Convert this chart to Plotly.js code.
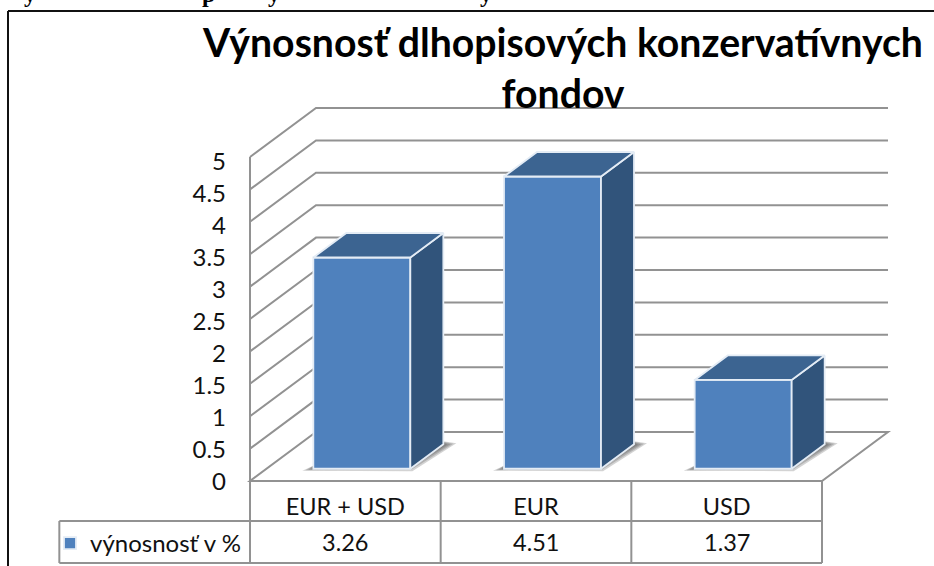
<!DOCTYPE html>
<html>
<head>
<meta charset="utf-8">
<script src="https://cdn.plot.ly/plotly-3.0.1.min.js"></script>
<style>html,body{margin:0;padding:0;background:#fff}#c{width:934px;height:566px}</style>
</head>
<body>
<div id="c"></div>
<script>
// ----- data -----
const categories = ['EUR + USD', 'EUR', 'USD'];
const seriesName = 'výnosnosť v %';
const values = [3.26, 4.51, 1.37];
const yTicks = [0, 0.5, 1, 1.5, 2, 2.5, 3, 3.5, 4, 4.5, 5];
const titleText = 'Výnosnosť dlhopisových konzervatívnych<br>fondov';
const clippedLetters = [['y', 30], ['p', 208], ['y', 274], ['y', 486]];

// ----- page geometry -----
const W = 934, H = 566;
const originX = 250, originY = 481;
const pxX = 572 / 3;        // pixels per category
const pxY = 324 / 5;        // pixels per value unit
const depthX = 66 / pxX;    // oblique depth in axis units
const depthY = 49 / pxY;
const barWidth = 97 / pxX;
const nearD = 0.25, farD = 0.75;
const rowY1 = -40 / pxY, rowY2 = -82 / pxY;
const labelPxY = 64, labelOriginY = 482;   // tick labels run on a slightly tighter scale than the walls

const GRID = '#929292', FRONT = '#4f81bd', TOP = '#3c6491', SIDE = '#31547b', EDGE = '#e4ecf5';
const FONT = 'Lato, "Open Sans", sans-serif';

function proj(x, d, v) { return [x + d * depthX, v + d * depthY]; }
function pathOf(pts, close) {
  return 'M' + pts.map(p => p[0] + ',' + p[1]).join('L') + (close ? 'Z' : '');
}
function gridShape(d) {
  return { type: 'path', xref: 'x', yref: 'y', layer: 'below', path: d, line: { color: GRID, width: 2 } };
}

const shapes = [];
// frame of the embedded picture
shapes.push({ type: 'line', xref: 'paper', yref: 'paper', x0: 8 / W, x1: 8 / W, y0: 0, y1: 1 - 11 / H, line: { color: '#111', width: 2 }, layer: 'below' });
shapes.push({ type: 'line', xref: 'paper', yref: 'paper', x0: 8 / W, x1: 1, y0: 1 - 11 / H, y1: 1 - 11 / H, line: { color: '#111', width: 2 }, layer: 'below' });

// walls and floor
yTicks.forEach(t => {
  if (t === 0) return;
  shapes.push(gridShape(pathOf([[0, t], proj(0, 1, t), proj(3, 1, t)])));
});
shapes.push(gridShape(pathOf([[0, 0], [3, 0], proj(3, 1, 0), proj(0, 1, 0)], true)));
shapes.push(gridShape(pathOf([[0, 0], [0, 5]])));

// data table
[0, 1, 2, 3].forEach(i => shapes.push(gridShape(pathOf([[i, 0], [i, rowY2]]))));
shapes.push(gridShape(pathOf([[-1, rowY1], [3, rowY1]])));
shapes.push(gridShape(pathOf([[-1, rowY2], [3, rowY2]])));
shapes.push(gridShape(pathOf([[-1, rowY1], [-1, rowY2]])));

// soft floor shadows
const traces = [];
const centers = categories.map((c, i) => i + 0.5);
centers.forEach((c) => {
  const x0 = c - barWidth / 2, x1 = c + barWidth / 2;
  [0, 3, 6, 9].forEach(s => {
    const ax = s / pxX, ay = s / pxY * 0.6;
    const pts = [
      [proj(x0, nearD, 0)[0] - (11 - s) / pxX, proj(x0, nearD, 0)[1] - 2 / pxY + ay * 0.3],
      [proj(x0, nearD, 0)[0], proj(x0, nearD, 0)[1] + 3 / pxY],
      [proj(x1, farD, 0)[0], proj(x1, farD, 0)[1] + 3 / pxY - ay * 0.3],
      [proj(x1, farD, 0)[0] + (13 - s) / pxX, proj(x1, farD, 0)[1] + 1 / pxY - ay * 0.3],
      [proj(x1, nearD, 0)[0] + 2 / pxX - ax * 0.2, proj(x0, nearD, 0)[1] - 2.5 / pxY + ay]
    ];
    shapes.push({ type: 'path', xref: 'x', yref: 'y', layer: 'below', path: pathOf(pts, true), fillcolor: 'rgba(70,70,70,0.24)', line: { width: 0 } });
  });
});

// bar fronts: a real bar trace
traces.push({
  type: 'bar', name: seriesName,
  x: centers.map(c => proj(c, nearD, 0)[0]),
  y: values,
  base: values.map(() => nearD * depthY),
  width: barWidth,
  marker: { color: FRONT, line: { color: EDGE, width: 1.8 } },
  hoverinfo: 'skip', showlegend: true
});
// bar sides and tops
values.forEach((v, i) => {
  const x0 = centers[i] - barWidth / 2, x1 = centers[i] + barWidth / 2;
  const side = [proj(x1, nearD, 0), proj(x1, farD, 0), proj(x1, farD, v), proj(x1, nearD, v), proj(x1, nearD, 0)];
  const top = [proj(x0, nearD, v), proj(x1, nearD, v), proj(x1, farD, v), proj(x0, farD, v), proj(x0, nearD, v)];
  [[side, SIDE], [top, TOP]].forEach(f => traces.push({
    type: 'scatter', mode: 'lines', x: f[0].map(p => p[0]), y: f[0].map(p => p[1]),
    fill: 'toself', fillcolor: f[1], line: { color: EDGE, width: 1.8 }, hoverinfo: 'skip', showlegend: false
  }));
});
// carrier for the tick-label axis
traces.push({
  type: 'scatter', mode: 'lines', x: [0, 0], y: [0, 5], yaxis: 'y2',
  line: { color: 'rgba(0,0,0,0)', width: 0 }, hoverinfo: 'skip', showlegend: false
});

// table value row + clipped heading remnants
const annotations = values.map((v, i) => ({
  xref: 'x', yref: 'y', x: centers[i], y: (rowY1 + rowY2) / 2, text: v.toFixed(2), showarrow: false,
  font: { family: FONT, size: 23.5, color: '#111' }
}));
clippedLetters.forEach(l => annotations.push({
  xref: 'paper', yref: 'paper', x: l[1] / W, y: 1, yshift: -9, yanchor: 'bottom', xanchor: 'center',
  text: '<b>' + l[0] + '</b>', showarrow: false, font: { family: '"Liberation Serif", serif', size: 24, color: '#000' }
}));

const layout = {
  width: W, height: H,
  margin: { l: 0, r: 0, t: 0, b: 0 },
  paper_bgcolor: '#fff', plot_bgcolor: 'rgba(0,0,0,0)',
  title: {
    text: '<b>' + titleText.replace('<br>', '</b><br><b>') + '</b>', x: 563 / W, xanchor: 'center', xref: 'paper',
    y: 1 - 57 / H, yanchor: 'top', yref: 'paper',
    font: { family: FONT, size: 39.2, color: '#000' }
  },
  xaxis: {
    range: [-originX / pxX, (W - originX) / pxX],
    tickmode: 'array', tickvals: centers, ticktext: categories,
    anchor: 'free', position: (H - originY) / H,
    showgrid: false, zeroline: false, showline: false, ticks: '', ticklabelstandoff: 9,
    tickfont: { family: FONT, size: 23.5, color: '#111' }, fixedrange: true
  },
  yaxis: {
    range: [-(H - originY) / pxY, originY / pxY],
    anchor: 'free', position: originX / W,
    showgrid: false, zeroline: false, showline: false, ticks: '', showticklabels: false, fixedrange: true
  },
  yaxis2: {
    overlaying: 'y',
    range: [-(H - labelOriginY) / labelPxY, labelOriginY / labelPxY],
    tickmode: 'array', tickvals: yTicks, ticktext: yTicks.map(String),
    anchor: 'free', position: originX / W,
    showgrid: false, zeroline: false, showline: false, ticks: '', ticklabelstandoff: 24,
    tickfont: { family: FONT, size: 24, color: '#111' }, fixedrange: true
  },
  showlegend: true,
  legend: {
    x: 50 / W, y: 1 - 521 / H, xanchor: 'left', yanchor: 'top', bgcolor: 'rgba(0,0,0,0)',
    font: { family: FONT, size: 24, color: '#111' }
  },
  shapes: shapes,
  annotations: annotations
};
Plotly.newPlot('c', traces, layout, { displayModeBar: false, staticPlot: true });
</script>
</body>
</html>
